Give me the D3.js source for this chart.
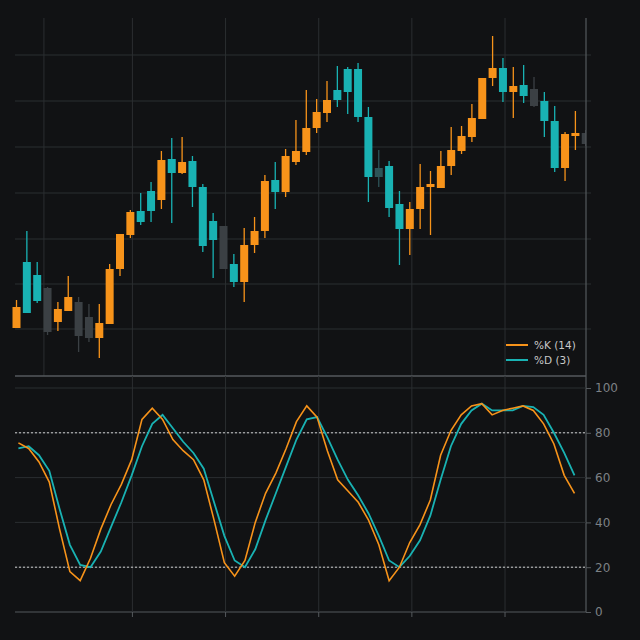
<!DOCTYPE html>
<html>
<head>
<meta charset="utf-8">
<script src="https://cdn.jsdelivr.net/npm/d3@7"></script>
<style>
  body { margin: 0; background: #111214; }
  svg { display: block; font-family: "DejaVu Sans", sans-serif; }
</style>
</head>
<body>
<div id="chart"></div>
<script>
// data
var opens  = [72,138,125,112,78,89,98,83,62,76,131,165,189,209,200,241,227,239,213,179,174,136,118,155,169,220,208,238,248,272,287,310,331,331,283,232,234,196,171,191,213,212,234,249,263,281,322,332,308,315,311,299,279,232,264,267];
var highs  = [100,169,138,113,98,124,103,96,96,136,166,190,207,218,249,262,263,244,216,187,174,146,172,183,225,238,251,280,310,301,319,334,333,337,293,250,239,209,198,236,229,249,273,274,296,322,364,342,333,335,323,308,294,268,289,270];
var lows   = [72,87,97,65,69,89,48,58,42,76,124,162,175,178,191,177,226,193,148,122,131,113,98,147,162,191,203,235,245,267,278,293,286,278,198,213,183,135,145,171,165,212,225,246,258,281,314,298,282,297,293,263,228,219,250,254];
var closes = [93,87,99,68,91,103,64,62,77,131,166,188,178,189,240,227,238,213,154,160,131,118,155,169,219,208,244,249,272,288,300,300,308,283,223,223,192,171,191,213,216,234,250,264,282,322,332,308,314,304,294,279,232,266,267,256];
var muted  = [3,6,7,20,35,50,55]; // candles drawn in neutral tone

var kValues = [75.5,73,67,58,37,18,14,24,37,48,57,68,86,91,86,77,72,68,59,41,22,16,23,40,53,62,73,85,92,87,72,59,54,49,41,30,14,20,31,39,50,70,81,88,92,93,88,90,91,92,90,84,75,61,53];
var dValues = [73,74,70,63,46,30,21,20,27,38,49,61,74,84,88,82,76,71,64,49,34,23,20,28,41,53,65,77,86,87,78,68,59,52,44,34,23,20,25,32,43,59,74,84,90,93,90,90,90,92,91.5,88,80,71,61];

var priceGrid = [71,116,161,207,253,299,345];
var timeGrid = [2.65,11.2,20.2,29.2,38.2,47.2];
var stochTicks = [0,20,40,60,80,100];
var bands = [20,80];

// layout
var width = 640, height = 640;
var left = 15, right = 586;
var top1 = 18, bottom1 = 376;
var top2 = 376, bottom2 = 612;

var orange = "#f7931a", teal = "#19b2b3", gridColor = "#2b2e31";

var svg = d3.select("#chart").append("svg")
    .attr("width", width).attr("height", height)
    .style("background", "#111214");

var n = opens.length;
var xPos = d3.scaleLinear().domain([0, n - 1]).range([16.5, 16.5 + 10.35 * (n - 1)]);
var yPrice = d3.scaleLinear().domain([25, 382]).range([375, 18]);
var yStoch = d3.scaleLinear().domain([0, 100]).range([bottom2, 388]);

svg.append("clipPath").attr("id", "clip1")
    .append("rect").attr("x", 0).attr("y", top1).attr("width", right).attr("height", bottom1 - top1);

// top panel grid
var g1 = svg.append("g");
g1.selectAll(".hg").data(priceGrid).enter().append("line")
    .attr("x1", left).attr("x2", right + 5)
    .attr("y1", d => yPrice(d)).attr("y2", d => yPrice(d))
    .attr("stroke", gridColor).attr("stroke-width", 1);
g1.selectAll(".vg").data(timeGrid).enter().append("line")
    .attr("x1", d => xPos(d)).attr("x2", d => xPos(d))
    .attr("y1", top1).attr("y2", bottom1)
    .attr("stroke", gridColor);

// candles
var candles = d3.range(n).map(i => ({i: i, o: opens[i], h: highs[i], l: lows[i], c: closes[i]}));
function candleColor(d) {
    if (d.i === 35) return "#2d5457";
    if (muted.indexOf(d.i) >= 0) return "#3b4044";
    return d.c >= d.o ? orange : teal;
}
var cg = svg.append("g").attr("clip-path", "url(#clip1)");
cg.selectAll(".wick").data(candles).enter().append("line")
    .attr("x1", d => xPos(d.i)).attr("x2", d => xPos(d.i))
    .attr("y1", d => yPrice(d.h)).attr("y2", d => yPrice(d.l))
    .attr("stroke", candleColor).attr("stroke-width", 1.3);
cg.selectAll(".body").data(candles).enter().append("rect")
    .attr("x", d => xPos(d.i) - 4)
    .attr("width", 8)
    .attr("y", d => yPrice(Math.max(d.o, d.c)))
    .attr("height", d => Math.max(2, Math.abs(yPrice(d.o) - yPrice(d.c))))
    .attr("fill", candleColor);

// right axis line
svg.append("line").attr("x1", right).attr("x2", right).attr("y1", top1).attr("y2", bottom2)
    .attr("stroke", "#55595d").attr("stroke-width", 1.2);

// legend
var legend = svg.append("g").attr("transform", "translate(506,345)");
[["%K (14)", orange], ["%D (3)", teal]].forEach(function (item, k) {
    legend.append("line").attr("x1", 0).attr("x2", 22).attr("y1", k * 15).attr("y2", k * 15)
        .attr("stroke", item[1]).attr("stroke-width", 2);
    legend.append("text").attr("x", 28).attr("y", k * 15 + 4).text(item[0])
        .attr("fill", "#c8c8c8").attr("font-size", "10.5px");
});

// bottom panel
var g2 = svg.append("g");
g2.append("line").attr("x1", left).attr("x2", right).attr("y1", top2).attr("y2", top2)
    .attr("stroke", "#55595d").attr("stroke-width", 1.5);
g2.selectAll(".sg").data(stochTicks).enter().append("line")
    .attr("x1", left).attr("x2", right)
    .attr("y1", d => yStoch(d)).attr("y2", d => yStoch(d))
    .attr("stroke", d => d === 0 ? "#55595d" : gridColor);
g2.selectAll(".vg2").data(timeGrid.slice(1)).enter().append("line")
    .attr("x1", d => xPos(d)).attr("x2", d => xPos(d))
    .attr("y1", top2).attr("y2", bottom2)
    .attr("stroke", gridColor);
g2.selectAll(".tick2").data(timeGrid.slice(1)).enter().append("line")
    .attr("x1", d => xPos(d)).attr("x2", d => xPos(d))
    .attr("y1", bottom2).attr("y2", bottom2 + 5)
    .attr("stroke", "#55595d");

var yAxis = d3.axisRight(yStoch).tickValues(stochTicks).tickSize(5).tickPadding(4);
var ya = g2.append("g").attr("transform", `translate(${right},0)`).call(yAxis);
ya.select(".domain").remove();
ya.selectAll("line").attr("stroke", "#55595d");
ya.selectAll("text").attr("fill", "#7d8185").attr("font-size", "12px")
    .attr("font-family", "DejaVu Sans, sans-serif");

g2.selectAll(".band").data(bands).enter().append("line")
    .attr("x1", left).attr("x2", right)
    .attr("y1", d => yStoch(d)).attr("y2", d => yStoch(d))
    .attr("stroke", "#cfcfcf").attr("stroke-width", 1).attr("stroke-dasharray", "2,2");

var xLine = d3.scaleLinear().domain([0, kValues.length - 1]).range([18.4, 574.5]);
var line = d3.line().x((d, i) => xLine(i)).y(d => yStoch(d));
g2.append("path").datum(dValues).attr("d", line)
    .attr("fill", "none").attr("stroke", teal).attr("stroke-width", 1.8);
g2.append("path").datum(kValues).attr("d", line)
    .attr("fill", "none").attr("stroke", orange).attr("stroke-width", 1.6);
</script>
</body>
</html>
